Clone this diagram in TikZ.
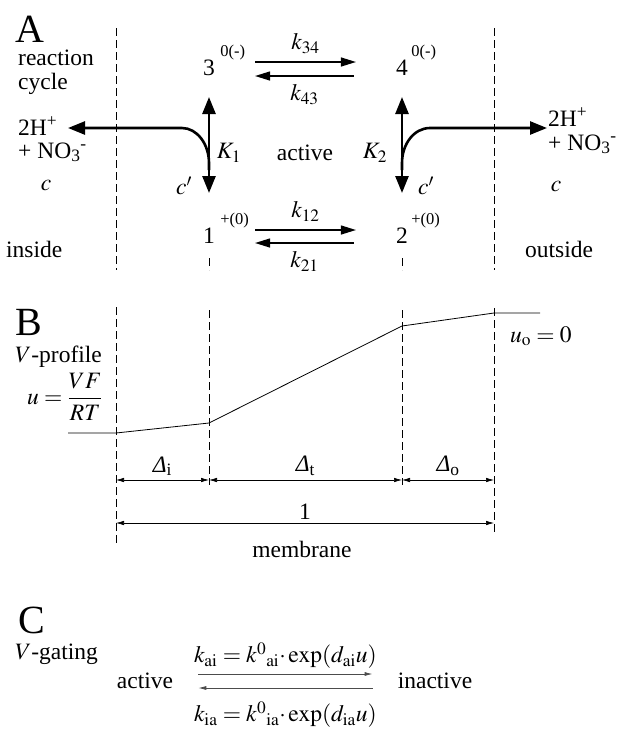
\documentclass[tikz,border=0pt]{standalone}
\usepackage{mathptmx}
\usepackage{fontspec}
\setmainfont{Liberation Serif}
\usetikzlibrary{arrows.meta,positioning}

\begin{document}
\begin{tikzpicture}[x=1pt,y=-1pt,
 font=\fontsize{23.5}{26}\selectfont,
 every node/.style={inner sep=0pt},
 panel/.style={font=\fontsize{40}{44}\selectfont,anchor=base west},
 txt/.style={anchor=base west},
 state/.style={anchor=base},
 sup/.style={font=\fontsize{16.5}{18}\selectfont,anchor=base west},
 memb/.style={dash pattern=on 8pt off 4pt,line width=.8pt},
 flux/.style={line width=2.6pt,-{Triangle[length=17pt,width=13pt]}},
 flux2/.style={line width=2.6pt,{Triangle[length=17pt,width=13pt]}-{Triangle[length=17pt,width=13pt]}},
 rate/.style={line width=1.3pt,-{Triangle[length=15pt,width=9pt]}},
 dim/.style={line width=.7pt,{Latex[length=8pt,width=4.5pt]}-{Latex[length=8pt,width=4.5pt]}},
 gate/.style={line width=.8pt,draw=black!70,-{Latex[length=8pt,width=4pt]}}]
\useasboundingbox (0,0) rectangle (617,729);

% A: reaction cycle
\node[panel] (A) at (15,42) {A};
\node[txt] (rc1) at (18,65) {reaction};
\node[txt] (rc2) at (18,89) {cycle};
\draw[memb] (116,28) -- (116,270);
\draw[memb] (494,28) -- (494,270);
\draw[memb] (209,258) -- (209,270);
\draw[memb] (402,258) -- (402,270);

\node[state] (s3) at (209,75) {3};
\node[sup] at ([xshift=5pt,yshift=19pt]s3.base east) {0(-)};
\node[state] (s4) at (402,75) {4};
\node[sup] at ([xshift=3pt,yshift=19pt]s4.base east) {0(-)};
\node[state] (s1) at (209,243) {1};
\node[sup] at ([xshift=5pt,yshift=19pt]s1.base east) {+(0)};
\node[state] (s2) at (402,243) {2};
\node[sup] at ([xshift=3pt,yshift=19pt]s2.base east) {+(0)};

\draw[rate] ([xshift=40pt,yshift=13pt]s3.base east) -- ([xshift=-40pt,yshift=13pt]s4.base west) node[midway,above=8pt] {$k_{34}$};
\draw[rate] ([xshift=-42pt,yshift=-1pt]s4.base west) -- ([xshift=40pt,yshift=-1pt]s3.base east) node[midway,below=8pt] {$k_{43}$};
\draw[rate] ([xshift=40pt,yshift=13pt]s1.base east) -- ([xshift=-40pt,yshift=13pt]s2.base west) node[midway,above=8pt] {$k_{12}$};
\draw[rate] ([xshift=-42pt]s2.base west) -- ([xshift=40pt]s1.base east) node[midway,below=8pt] {$k_{21}$};

\draw[flux2] ([yshift=-22pt]s3.base) -- ([yshift=50pt]s1.base);
\draw[flux2] ([yshift=-22pt]s4.base) -- ([yshift=50pt]s2.base);

% ion release
\coordinate (jL) at (209,170);
\coordinate (jR) at (402,170);
\coordinate (tipL) at (68,128);
\coordinate (tipR) at (547,128);
\draw[flux] (jL) -- (209,163) .. controls (209,144) and (197,128) .. (182,128) -- (tipL);
\draw[flux] (jR) -- (402,163) .. controls (402,144) and (414,128) .. (430,128) -- (tipR);

\node[txt] (hL) at (18,135) {2H\textsuperscript{+}};
\node[txt] (nL) at (18,158) {+ NO\textsubscript{3}\textsuperscript{-}};
\node[txt] (hR) at (548,126) {2H\textsuperscript{+}};
\node[txt] (nR) at (548,150) {+ NO\textsubscript{3}\textsuperscript{-}};
\node (cL) at (46,186) {$c$};
\node (cR) at (556,187) {$c$};
\node (cpL) at (184,186) {$c'$};
\node (cpR) at (426,186) {$c'$};
\node (K1) at (229,153) {$K_1$};
\node (K2) at (375,153) {$K_2$};
\node (act) at (305,153) {active};
\node[txt] (ins) at (6,257) {inside};
\node[txt] (outs) at (525,257) {outside};

% B: voltage profile
\node[panel] (B) at (15,335) {B};
\node[txt] (vp) at (15,362) {$V$-profile};
\node[txt] (ueq) at (27,404) {$u=\displaystyle\frac{VF}{RT}$};
\draw[memb] (116,307) -- (116,545);
\draw[memb] (209,310) -- (209,485);
\draw[memb] (402,310) -- (402,485);
\draw[memb] (494,308) -- (494,533);
\draw[line width=.8pt] (68,433) -- (116,433) -- (209,423) -- (402,326) -- (494,313) -- (540,313);
\node[txt] (u0) at (510,342) {$u_{\mathrm{o}}=0$};

\coordinate (d0) at (116,480);
\coordinate (d1) at (209,480);
\coordinate (d2) at (402,480);
\coordinate (d3) at (494,480);
\draw[dim] (d0) -- (d1) node[midway,above=4pt] {{\itshape Δ}\textsubscript{i}};
\draw[dim] (d1) -- (d2) node[midway,above=4pt] {{\itshape Δ}\textsubscript{t}};
\draw[dim] (d2) -- (d3) node[midway,above=4pt] {{\itshape Δ}\textsubscript{o}};
\coordinate (e0) at (116,523);
\coordinate (e1) at (494,523);
\draw[dim] (e0) -- (e1) node[midway,above=3pt] {1};
\node[anchor=base] (mem) at (302,557) {membrane};

% C: gating
\node[panel] (C) at (18,633) {C};
\node[txt] (vg) at (15,659) {$V$-gating};
\node[anchor=base] (ga) at (145,688) {active};
\node[anchor=base] (gi) at (435,688) {inactive};
\draw[gate] ([xshift=25pt,yshift=14pt]ga.base east) -- ([xshift=-25pt,yshift=14pt]gi.base west) node[midway,above=5pt] {$k_{\mathrm{ai}}=k^{0}{}_{\mathrm{ai}}{\cdot}\exp(d_{\mathrm{ai}}u)$};
\draw[gate] ([xshift=-25pt]gi.base west) -- ([xshift=25pt]ga.base east) node[midway,below=13pt] {$k_{\mathrm{ia}}=k^{0}{}_{\mathrm{ia}}{\cdot}\exp(d_{\mathrm{ia}}u)$};
\end{tikzpicture}
\end{document}
